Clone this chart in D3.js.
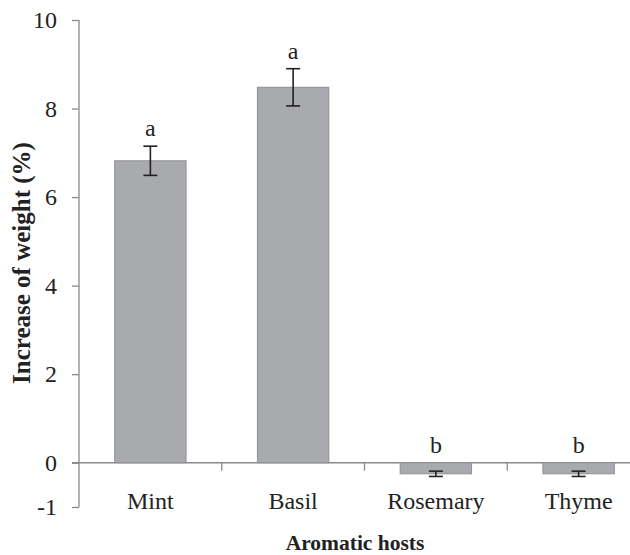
<!DOCTYPE html>
<html>
<head>
<meta charset="utf-8">
<script src="https://cdn.jsdelivr.net/npm/d3@7"></script>
<style>
  body { margin:0; background:#fff; }
  svg, svg text { font-family:"Liberation Serif","Times New Roman","DejaVu Serif",serif; }
</style>
</head>
<body>
<svg width="630" height="555"></svg>
<script>
// ---------- data ----------
const hosts   = ["Mint", "Basil", "Rosemary", "Thyme"];
const means   = [6.82, 8.48, -0.25, -0.25];
const errs    = [0.33, 0.42, 0.06, 0.06];
const letters = ["a", "a", "b", "b"];
const yTicks  = [-1, 0, 2, 4, 6, 8, 10];

const svg = d3.select("svg");
const FONT = "'Liberation Serif','Times New Roman','DejaVu Serif',serif";
const C = { bar:"#a9aaae", barEdge:"#8e8f93", axis:"#8a8a8a", ink:"#222" };

const x = d3.scaleBand().domain(hosts).range([79, 650]).paddingInner(0.5).paddingOuter(0.25);
const y = d3.scaleLinear().domain([-1, 10]).range([507, 20]);

// y axis
const yAx = svg.append("g").attr("transform","translate(79,0)")
  .call(d3.axisLeft(y).tickValues(yTicks).tickSize(7).tickPadding(15).tickFormat(d=>String(d)));
yAx.attr("font-family",FONT).attr("font-size",24);
yAx.select(".domain").attr("stroke",C.axis).attr("stroke-width",1.3).attr("d","M0,20V507");
yAx.selectAll(".tick line").attr("stroke",C.axis).attr("stroke-width",1.3);
yAx.selectAll(".tick text").attr("fill",C.ink);

// x axis on the zero line
svg.append("line").attr("x1",72).attr("x2",630).attr("y1",y(0)).attr("y2",y(0))
  .attr("stroke",C.axis).attr("stroke-width",1.3);
const gap = x.step() - x.bandwidth();
hosts.slice(1).forEach(h=>{
  const xb = x(h) - gap/2;
  svg.append("line").attr("x1",xb).attr("x2",xb).attr("y1",y(0)).attr("y2",y(0)+8)
    .attr("stroke",C.axis).attr("stroke-width",1.3);
});
svg.selectAll(".xl").data(hosts).join("text").attr("class","xl")
  .attr("x",d=>x(d)+x.bandwidth()/2).attr("y",509).attr("text-anchor","middle")
  .attr("font-family",FONT).attr("fill",C.ink).attr("font-size",24).text(d=>d);

// bars
svg.selectAll(".bar").data(hosts).join("rect").attr("class","bar")
  .attr("x",d=>x(d)).attr("width",x.bandwidth())
  .attr("y",(d,i)=>y(Math.max(0,means[i]))).attr("height",(d,i)=>Math.abs(y(means[i])-y(0)))
  .attr("fill",C.bar).attr("stroke",C.barEdge).attr("stroke-width",1);

// error bars + significance letters
hosts.forEach((h,i)=>{
  const cx = x(h)+x.bandwidth()/2, hi = y(means[i]+errs[i]), lo = y(means[i]-errs[i]);
  const g = svg.append("g").attr("stroke",C.ink).attr("stroke-width",1.6);
  g.append("line").attr("x1",cx).attr("x2",cx).attr("y1",hi).attr("y2",lo);
  g.append("line").attr("x1",cx-7).attr("x2",cx+7).attr("y1",hi).attr("y2",hi);
  g.append("line").attr("x1",cx-7).attr("x2",cx+7).attr("y1",lo).attr("y2",lo);
  const top = Math.max(0, means[i]+errs[i]);
  svg.append("text").attr("x",cx).attr("y",y(top)-10).attr("text-anchor","middle")
    .attr("font-family",FONT).attr("fill",C.ink).attr("font-size",24).text(letters[i]);
});

// titles
svg.append("text").attr("x",355).attr("y",550).attr("text-anchor","middle")
  .attr("font-family",FONT).attr("fill",C.ink).attr("font-size",21.5).attr("font-weight","bold")
  .text("Aromatic hosts");
svg.append("text").attr("transform","translate(30,263) rotate(-90)").attr("text-anchor","middle")
  .attr("font-family",FONT).attr("fill",C.ink).attr("font-size",25).attr("font-weight","bold")
  .text("Increase of weight (%)");
</script>
</body>
</html>
